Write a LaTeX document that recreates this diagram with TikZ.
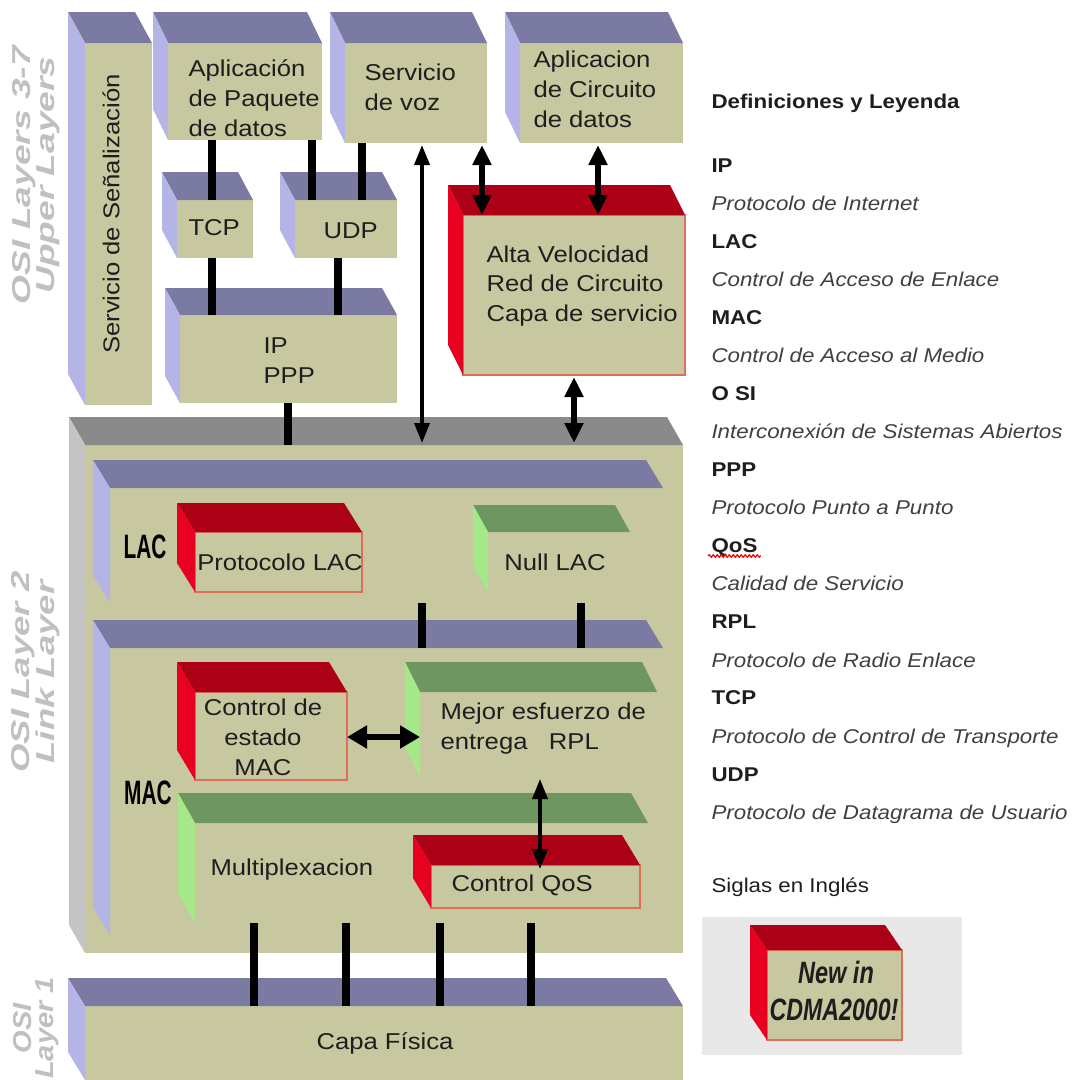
\documentclass[tikz,border=0pt]{standalone}
\usepackage{fontspec}
\setmainfont[FakeStretch=1.12]{Liberation Sans}
\usetikzlibrary{arrows.meta,calc,fit,decorations.pathmorphing}
\definecolor{khaki}{RGB}{200,200,160}
\definecolor{slate}{RGB}{122,122,162}
\definecolor{lav}{RGB}{180,180,230}
\definecolor{gtop}{RGB}{138,138,138}
\definecolor{gside}{RGB}{196,196,196}
\definecolor{rtop}{RGB}{172,0,22}
\definecolor{rside}{RGB}{232,0,32}
\definecolor{rline}{RGB}{222,110,90}
\definecolor{gntop}{RGB}{110,150,96}
\definecolor{gnside}{RGB}{165,232,135}
\definecolor{osigray}{RGB}{192,192,192}
\definecolor{txt}{RGB}{30,30,30}
\definecolor{legbox}{RGB}{232,232,232}
\tikzset{
 frontB/.style={fill=khaki}, topB/.style={fill=slate}, sideB/.style={fill=lav},
 frontG/.style={fill=khaki}, topG/.style={fill=gtop}, sideG/.style={fill=gside},
 frontR/.style={fill=khaki, draw=rline, line width=1.2bp}, topR/.style={fill=rtop}, sideR/.style={fill=rside},
 frontN/.style={fill=khaki}, topN/.style={fill=gntop}, sideN/.style={fill=gnside},
 boxtext/.style={text=txt, font=\fontsize{23}{30}\selectfont},
 sublab/.style={text=black, font=\fontsize{34}{34}\selectfont\bfseries},
 osilab/.style={text=osigray, font=\fontsize{26}{22}\selectfont\bfseries\itshape, align=center, rotate=90},
 bar/.style={line width=8bp, black},
 dblthin/.style={line width=3.5bp, black, {Triangle[length=20bp,width=15bp]}-{Triangle[length=20bp,width=15bp]}},
 dblthick/.style={line width=5.5bp, black, {Triangle[length=20bp,width=18bp]}-{Triangle[length=20bp,width=18bp]}},
 dblhoriz/.style={line width=6bp, black, {Triangle[length=20bp,width=22bp]}-{Triangle[length=20bp,width=22bp]}},
 legb/.style={anchor=base west, text=txt, font=\fontsize{20}{24}\selectfont\bfseries},
 legi/.style={anchor=base west, text=txt!85, font=\fontsize{20}{24}\selectfont\itshape},
}
% #1 name, #2 x1, #3 y1, #4 x2, #5 y2, #6 dx, #7 dy, #8 scheme
\newcommand\cuboid[8]{%
 \node[fit={(#2,#3) (#4,#5)}, inner sep=0, outer sep=0, front#8] (#1) {};
 \fill[top#8] (#1.north west) -- ++(-#6,-#7) -- ($(#1.north east)+(-#6,-#7)$) -- (#1.north east) -- cycle;
 \fill[side#8] (#1.north west) -- ++(-#6,-#7) -- ($(#1.south west)+(-#6,-#7)$) -- (#1.south west) -- cycle;
}
\begin{document}
\begin{tikzpicture}[x=1bp,y=-1bp]
\fill[white] (0,0) rectangle (1079,1080);
\useasboundingbox (0,0) rectangle (1079,1080);

% ---------- left OSI labels ----------
\node[osilab] (osi37) at (36,175) {\scalebox{1.28}[1]{OSI Layers 3-7}\\\scalebox{1.28}[1]{Upper Layers}};
\node[osilab] (osi2) at (36,672) {\scalebox{1.26}[1]{OSI Layer 2}\\\scalebox{1.26}[1]{Link Layer}};
\node[osilab] (osi1) at (36,1028) {OSI\\Layer 1};

% ---------- upper layers ----------
\cuboid{sen}{85}{43}{152}{405}{17}{31}{B}
\cuboid{app}{168}{43}{322}{140}{15}{31}{B}
\cuboid{voz}{345}{43}{487}{143}{15}{31}{B}
\cuboid{cir}{520}{43}{683}{143}{15}{31}{B}
\cuboid{tcp}{177}{200}{253}{258}{15}{28}{B}
\cuboid{udp}{295}{200}{397}{258}{15}{28}{B}
\cuboid{ip}{180}{315}{397}{403}{15}{27}{B}
\cuboid{alta}{463}{215}{685}{375}{15}{30}{R}

\node[boxtext, rotate=90] (tsen) at (111,214) {Servicio de Señalización};
\node[boxtext, anchor=west, align=left] (tapp) at (185,98) {Aplicación\\de Paquete\\de datos};
\node[boxtext, anchor=west, align=left] (tvoz) at (361,87) {Servicio\\de voz};
\node[boxtext, anchor=west, align=left] (tcir) at (530,89) {Aplicacion\\de Circuito\\de datos};
\node[boxtext, anchor=west] (ttcp) at (185,228) {TCP};
\node[boxtext, anchor=west] (tudp) at (320,231) {UDP};
\node[boxtext, anchor=west, align=left] (tip) at (260,361) {IP\\PPP};
\node[boxtext, anchor=west, align=left] (talta) at (483,286) {Alta Velocidad\\Red de Circuito\\Capa de servicio};

% ---------- link layer ----------
\cuboid{link}{85}{445}{683}{953}{16}{28}{G}
\cuboid{lacsub}{110}{488}{663}{603}{17}{28}{B}
\cuboid{macsub}{110}{648}{663}{935}{17}{28}{B}
\cuboid{plac}{195}{532}{362}{592}{18}{29}{R}
\cuboid{nlac}{488}{532}{630}{592}{15}{27}{N}
\cuboid{cem}{195}{692}{347}{780}{18}{30}{R}
\cuboid{mej}{420}{692}{657}{777}{15}{30}{N}
\cuboid{mux}{195}{823}{648}{923}{17}{30}{N}
\cuboid{qos}{431}{865}{640}{908}{18}{30}{R}

\node[sublab] (lLAC) at (145,547) {\scalebox{0.55}[1]{LAC}};
\node[sublab] (lMAC) at (148,793) {\scalebox{0.55}[1]{MAC}};
\node[boxtext] (tplac) at (280,562) {Protocolo LAC};
\node[boxtext] (tnlac) at (555,562) {Null LAC};
\node[boxtext, align=center] (tcem) at (263,737) {Control de\\estado\\MAC};
\node[boxtext, anchor=west, align=left] (tmej) at (437,729) {Mejor esfuerzo de\\entrega \ \ RPL};
\node[boxtext, anchor=west] (tmux) at (207,870) {Multiplexacion};
\node[boxtext, anchor=west] (tqos) at (448,885) {Control QoS};

% ---------- physical layer ----------
\cuboid{phy}{85}{1006}{683}{1080}{17}{28}{B}
\node[boxtext] (tphy) at (385,1043) {Capa Física};

% ---------- connector positions ----------
\coordinate (x212) at (212,0);
\coordinate (x312) at (312,0);
\coordinate (x338) at (338,0);
\coordinate (x362) at (362,0);
\coordinate (x288) at (288,0);
\coordinate (x422) at (422,0);
\coordinate (x482) at (482,0);
\coordinate (x598) at (598,0);
\coordinate (x574) at (574,0);
\coordinate (x581) at (581,0);
\coordinate (x540) at (540,0);
\coordinate (x254) at (254,0);
\coordinate (x346) at (346,0);
\coordinate (x440) at (440,0);
\coordinate (x531) at (531,0);
\coordinate (y737) at (0,737);

\draw[bar] (app.south -| x212) -- (tcp.north -| x212);
\draw[bar] (tcp.south -| x212) -- (ip.north -| x212);
\draw[bar] (app.south -| x312) -- (udp.north -| x312);
\draw[bar] (voz.south -| x362) -- (udp.north -| x362);
\draw[bar] (udp.south -| x338) -- (ip.north -| x338);
\draw[bar] (ip.south -| x288) -- (link.north -| x288);
\draw[bar] (lacsub.south -| x422) -- (macsub.north -| x422);
\draw[bar] (lacsub.south -| x581) -- (macsub.north -| x581);
\draw[bar] (mux.south -| x254) -- (phy.north -| x254);
\draw[bar] (mux.south -| x346) -- (phy.north -| x346);
\draw[bar] (mux.south -| x440) -- (phy.north -| x440);
\draw[bar] (mux.south -| x531) -- (phy.north -| x531);

\draw[dblthin] ([yshift=-2bp]voz.south -| x422) -- ([yshift=2bp]link.north -| x422);
\draw[dblthick] ([yshift=-2bp]voz.south -| x482) -- (alta.north -| x482);
\draw[dblthick] ([yshift=-2bp]cir.south -| x598) -- (alta.north -| x598);
\draw[dblthick] ([yshift=-2bp]alta.south -| x574) -- ([yshift=2bp]link.north -| x574);
\draw[dblthin] ([yshift=-2bp]mej.south -| x540) -- ([yshift=-4bp]qos.north -| x540);
\draw[dblhoriz] (cem.east |- y737) -- (mej.west |- y737);

% ---------- legend ----------
\node[legb] (lgt) at (708,108) {Definiciones y Leyenda};
\node[legb] (l1) at (708,172) {IP};
\node[legi] (d1) at (708,210) {Protocolo de Internet};
\node[legb] (l2) at (708,248) {LAC};
\node[legi] (d2) at (708,286) {Control de Acceso de Enlace};
\node[legb] (l3) at (708,324) {MAC};
\node[legi] (d3) at (708,362) {Control de Acceso al Medio};
\node[legb] (l4) at (708,400) {O SI};
\node[legi] (d4) at (708,438) {Interconexión de Sistemas Abiertos};
\node[legb] (l5) at (708,476) {PPP};
\node[legi] (d5) at (708,514) {Protocolo Punto a Punto};
\node[legb] (l6) at (708,552) {QoS};
\draw[red, line width=1.2bp, decorate, decoration={snake, amplitude=1.3bp, segment length=4bp}] ([yshift=-4bp]l6.base west) -- ([yshift=-4bp]l6.base east);
\node[legi] (d6) at (708,590) {Calidad de Servicio};
\node[legb] (l7) at (708,628) {RPL};
\node[legi] (d7) at (708,667) {Protocolo de Radio Enlace};
\node[legb] (l8) at (708,704) {TCP};
\node[legi] (d8) at (708,743) {Protocolo de Control de Transporte};
\node[legb] (l9) at (708,781) {UDP};
\node[legi] (d9) at (708,819) {Protocolo de Datagrama de Usuario};
\node[anchor=base west, text=txt, font=\fontsize{20}{24}\selectfont] (sig) at (708,892) {Siglas en Inglés};

\node[fit={(702,917) (962,1055)}, inner sep=0, fill=legbox] (lgbox) {};
\cuboid{newb}{767}{950}{902}{1040}{17}{25}{R}
\node[text=txt, font=\fontsize{31}{31}\selectfont\bfseries\itshape] (tnew1) at (836,972) {\scalebox{0.68}[1]{New in}};
\node[text=txt, font=\fontsize{31}{31}\selectfont\bfseries\itshape] (tnew2) at (834,1010) {\scalebox{0.67}[1]{CDMA2000!}};
\end{tikzpicture}
\end{document}
